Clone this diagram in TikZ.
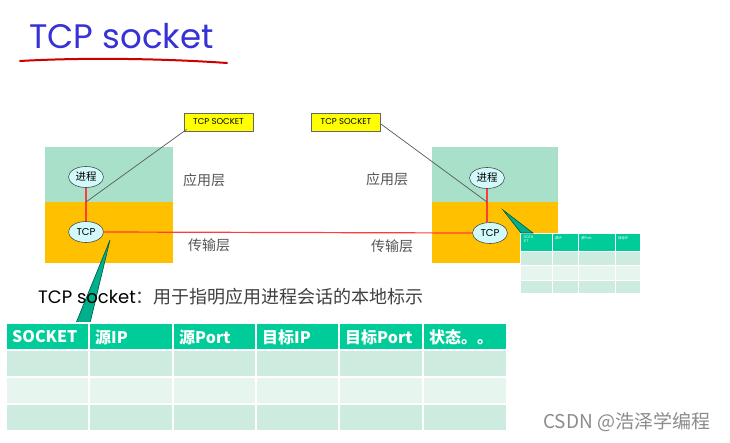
\documentclass[tikz,border=0pt]{standalone}
\usepackage{fontspec}
\usetikzlibrary{shapes.geometric}
\setmainfont{Noto Sans CJK SC}
\newfontfamily\cjk{Noto Sans CJK SC}
\newfontfamily\comic{Poppins}
\definecolor{titleblue}{RGB}{55,50,215}
\definecolor{appgreen}{RGB}{168,224,202}
\definecolor{tportorange}{RGB}{255,192,0}
\definecolor{ellfill}{RGB}{210,250,250}
\definecolor{linered}{RGB}{255,60,60}
\definecolor{hdrteal}{RGB}{0,204,153}
\definecolor{rowA}{RGB}{206,235,223}
\definecolor{rowB}{RGB}{230,245,238}
\definecolor{wedge}{RGB}{0,175,140}
\definecolor{labelyellow}{RGB}{255,255,0}
\definecolor{layertext}{RGB}{85,85,85}
\begin{document}
\begin{tikzpicture}[x=1pt,y=-1pt,
  proc/.style={ellipse,draw=black!70,fill=ellfill,line width=0.6pt,minimum width=35pt,minimum height=21pt,inner sep=0pt,font=\cjk\fontsize{10.5}{10.5}\selectfont},
  sockbox/.style={draw=black!60,fill=labelyellow,line width=0.8pt,minimum width=69pt,minimum height=18pt,inner sep=0pt,font=\comic\fontsize{8.5}{9}\selectfont},
  layerlbl/.style={text=layertext,font=\cjk\fontsize{14}{14}\selectfont,inner sep=0pt},
  redline/.style={draw=linered,line width=1.2pt},
  pointer/.style={draw=black!65,line width=0.7pt},
  wedgeshape/.style={fill=wedge,draw=black!50!wedge,line width=0.6pt},
  hdrtxt/.style={text=white,anchor=west,inner sep=0pt,font=\cjk\bfseries\fontsize{16}{16}\selectfont},
  smalltxt/.style={text=white,anchor=north west,inner sep=0pt,font=\cjk\fontsize{3.5}{4}\selectfont,align=left},
]
\useasboundingbox (0,0) rectangle (730,442);
\fill[white] (0,0) rectangle (730,442);

% title
\node[anchor=base west,inner sep=0pt,text=titleblue,font=\comic\fontsize{34}{34}\selectfont] (title) at (29,48) {TCP socket};
\draw[draw=red!80!black,line width=2pt,line cap=round] (20,61) .. controls (90,57) and (170,59) .. (227,63);

% left host layers
\fill[appgreen] (45,147) rectangle (173,202);
\fill[tportorange] (45,202) rectangle (173,263);
% right host layers
\fill[appgreen] (432,147) rectangle (558,202);
\fill[tportorange] (432,202) rectangle (558,263);

% layer labels
\node[layerlbl] (appL) at (204,180) {应用层};
\node[layerlbl] (tpL) at (209,245) {传输层};
\node[layerlbl] (appR) at (387,179) {应用层};
\node[layerlbl] (tpR) at (392,246) {传输层};

% processes and TCP
\node[proc] (p1) at (86,177) {进程};
\node[proc,font=\comic\fontsize{10}{10}\selectfont] (t1) at (86,232) {TCP};
\node[proc] (p2) at (487,178) {进程};
\node[proc,font=\comic\fontsize{10}{10}\selectfont] (t2) at (490,233) {TCP};

\draw[redline] (p1.south) -- (p1.south |- t1.north);
\draw[redline] (p2.south) -- (p2.south |- t2.north);
\draw[redline] (t1.east) -- (t2.west);

\coordinate (j1) at (86,202);
\coordinate (j2) at (487,202);

% socket labels
\node[sockbox] (s1) at (218.5,122) {TCP SOCKET};
\node[sockbox] (s2) at (346,122) {TCP SOCKET};
\draw[pointer] (s1.south west) ++(3,-2) -- (j1);
\draw[pointer] (s2.east) ++(0,2) -- (j2);

% small table (right)
\foreach \xa/\xb in {520/552,552/578,578/615,615/640}{
  \fill[hdrteal,draw=white,line width=0.8pt] (\xa,233) rectangle (\xb,251);
  \fill[rowA,draw=white,line width=0.8pt] (\xa,251) rectangle (\xb,265);
  \fill[rowB,draw=white,line width=0.8pt] (\xa,265) rectangle (\xb,280);
  \fill[rowA,draw=white,line width=0.8pt] (\xa,280) rectangle (\xb,293);
}
\node[smalltxt] (sh1) at (524,236) {SOCK\\ET};
\node[smalltxt] (sh2) at (555,236) {源IP};
\node[smalltxt] (sh3) at (581,236) {源Port};
\node[smalltxt] (sh4) at (618,236) {目标IP};

% wedges
\coordinate (w1tip) at (110,240);
\coordinate (w1a) at (76,323);
\coordinate (w1b) at (90,323);
\fill[wedgeshape] (w1tip) -- (w1a) -- (w1b) -- cycle;
\coordinate (w2tip) at (503,210);
\coordinate (w2a) at (521,233);
\coordinate (w2b) at (533,233);
\fill[wedgeshape] (w2tip) -- (w2a) -- (w2b) -- cycle;

% caption
\node[anchor=base west,inner sep=0pt] (cap) at (38,303) {{\comic\fontsize{18}{18}\selectfont TCP socket}{\cjk\color{black!75}\fontsize{18}{18}\selectfont ：用于指明应用进程会话的本地标示}};

% big table
\foreach \xa/\xb in {6/89,89/173,173/256,256/339,339/423,423/507}{
  \fill[hdrteal,draw=white,line width=1.2pt] (\xa,323) rectangle (\xb,350);
  \fill[rowA,draw=white,line width=1.2pt] (\xa,350) rectangle (\xb,377);
  \fill[rowB,draw=white,line width=1.2pt] (\xa,377) rectangle (\xb,404);
  \fill[rowA,draw=white,line width=1.2pt] (\xa,404) rectangle (\xb,431);
}
\node[hdrtxt] (h1) at (12,337) {SOCKET};
\node[hdrtxt] (h2) at (95,337) {源IP};
\node[hdrtxt] (h3) at (179,337) {源Port};
\node[hdrtxt] (h4) at (262,337) {目标IP};
\node[hdrtxt] (h5) at (345,337) {目标Port};
\node[hdrtxt] (h6) at (429,337) {状态。。};

% watermark
\node[anchor=west,inner sep=0pt,text=black!45,font=\cjk\fontsize{19}{19}\selectfont] (wm) at (543,422) {CSDN @浩泽学编程};
\end{tikzpicture}
\end{document}
